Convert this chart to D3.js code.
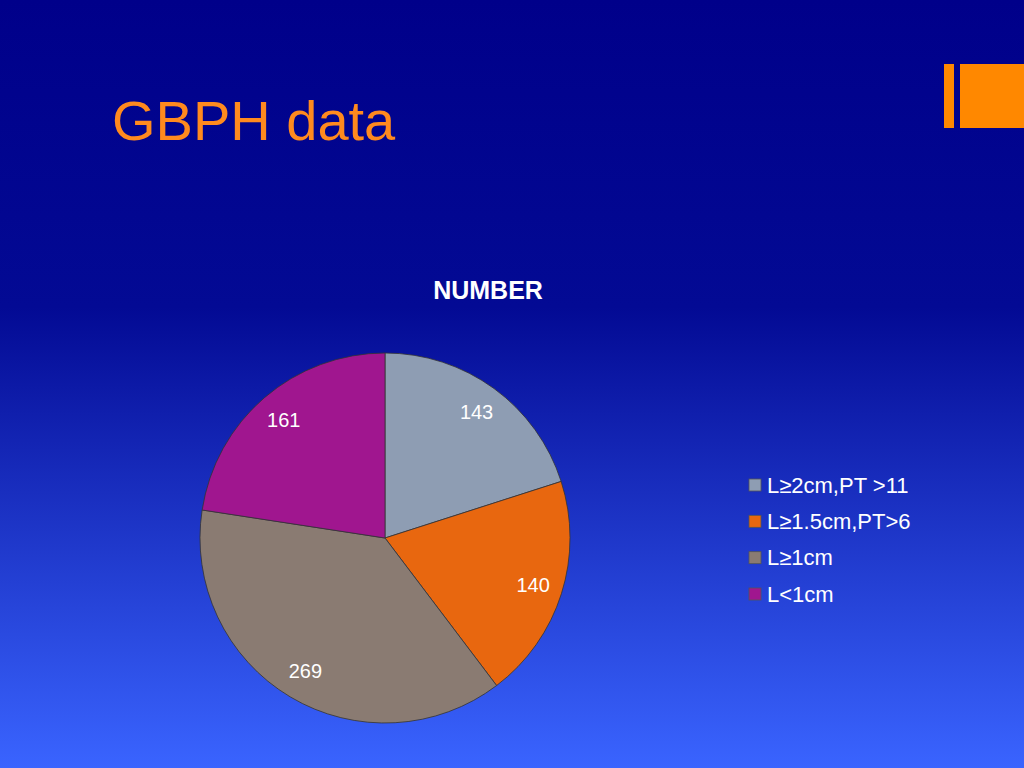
<!DOCTYPE html>
<html><head><meta charset="utf-8">
<script src="https://cdn.jsdelivr.net/npm/d3@7"></script>
<style>body{margin:0;overflow:hidden}</style>
</head><body>
<svg id="c" width="1024" height="768"></svg>
<script>
const categories = ["L≥2cm,PT >11", "L≥1.5cm,PT>6", "L≥1cm", "L<1cm"];
const values = [143, 140, 269, 161];
const colors = ["#8e9db3", "#e8670f", "#8a7b72", "#a0168f"];

const svg = d3.select("#c");
const defs = svg.append("defs");
const bg = defs.append("linearGradient").attr("id","bg").attr("x1",0).attr("y1",0).attr("x2",0).attr("y2",1);
bg.append("stop").attr("offset","0").attr("stop-color","#00008a");
bg.append("stop").attr("offset","0.4").attr("stop-color","#030a94");
bg.append("stop").attr("offset","1").attr("stop-color","#3a64ff");
svg.append("rect").attr("width",1024).attr("height",768).attr("fill","url(#bg)");

svg.append("rect").attr("x",944).attr("y",64).attr("width",10).attr("height",64).attr("fill","#ff8800");
svg.append("rect").attr("x",960).attr("y",64).attr("width",64).attr("height",64).attr("fill","#ff8800");

svg.append("text").attr("x",112).attr("y",140).attr("fill","#ff8a1e")
  .attr("font-family","Liberation Sans, Arial").attr("font-size",56).text("GBPH data");
svg.append("text").attr("x",488).attr("y",299).attr("text-anchor","middle").attr("fill","#fff")
  .attr("font-family","Liberation Sans, Arial").attr("font-weight","bold").attr("font-size",25).text("NUMBER");

const cx = 385, cy = 538, r = 185;
const pie = d3.pie().sort(null).value(d => d)(values);
const arc = d3.arc().innerRadius(0).outerRadius(r);
const g = svg.append("g").attr("transform",`translate(${cx},${cy})`);
g.selectAll("path").data(pie).enter().append("path")
  .attr("d",arc).attr("fill",(d,i)=>colors[i]).attr("stroke","#333").attr("stroke-width",0.8);
const lab = d3.arc().innerRadius(r*0.84).outerRadius(r*0.84);
g.selectAll("text").data(pie).enter().append("text")
  .attr("transform",d=>`translate(${lab.centroid(d)})`).attr("text-anchor","middle").attr("dy","0.35em")
  .attr("fill","#fff").attr("font-family","Liberation Sans, Arial").attr("font-size",20)
  .text(d=>d.data);

const y = d3.scalePoint().domain(categories).range([485,594]);
const lg = svg.append("g");
categories.forEach((c,i)=>{
  lg.append("rect").attr("x",749).attr("y",y(c)-6).attr("width",12).attr("height",12)
    .attr("fill",colors[i]).attr("stroke","#555").attr("stroke-width",0.8);
  lg.append("text").attr("x",767).attr("y",y(c)).attr("dy","0.35em").attr("fill","#fff")
    .attr("font-family","Liberation Sans, Arial").attr("font-size",22).text(c);
});
</script>
</body></html>
